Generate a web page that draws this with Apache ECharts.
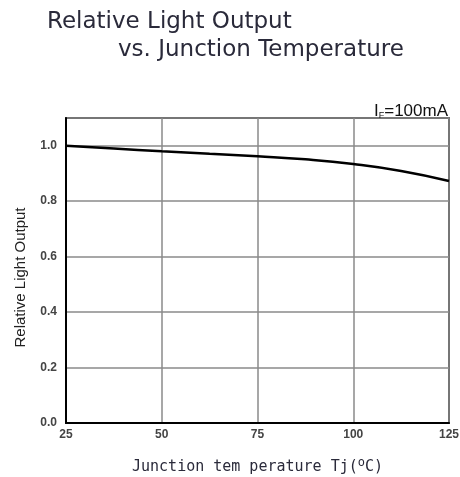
<!DOCTYPE html>
<html><head><meta charset="utf-8">
<script src="https://cdn.jsdelivr.net/npm/echarts@6/dist/echarts.min.js"></script>
<style>html,body{margin:0;padding:0;background:#fff}#c{width:460px;height:477px}</style>
</head><body><div id="c"></div>
<script>
var temps = [25, 37.5, 50, 62.5, 75, 87.5, 100, 112.5, 125];
var relOutput = [1.0, 0.99, 0.98, 0.971, 0.962, 0.951, 0.934, 0.909, 0.873];
var xTicks = [25, 50, 75, 100, 125];
var yTicks = [0.0, 0.2, 0.4, 0.6, 0.8, 1.0];

var chart = echarts.init(document.getElementById('c'));
chart.setOption({
  animation: false,
  backgroundColor: '#fff',
  title: [
    {text: 'Relative Light Output', left: 42, top: 4,
     textStyle: {fontFamily: 'DejaVu Sans', fontSize: 23, fontWeight: 'normal', color: '#2a2a3a', lineHeight: 27}},
    {text: 'vs. Junction Temperature', left: 113, top: 32,
     textStyle: {fontFamily: 'DejaVu Sans', fontSize: 23, fontWeight: 'normal', color: '#2a2a3a', lineHeight: 27}},
    {text: 'I{s|F}=100mA', right: 7, top: 97,
     textStyle: {fontFamily: 'Liberation Sans', fontSize: 17, fontWeight: 'normal', color: '#111',
       rich: {s: {fontFamily: 'Liberation Sans', fontSize: 9, color: '#111', verticalAlign: 'bottom', padding: [9, 0, 0, 0]}}}}
  ],
  grid: {left: 66, right: 11, top: 118, bottom: 54, show: true, borderColor: '#000', borderWidth: 1.5,
         backgroundColor: 'transparent', outerBoundsMode: 'none', containLabel: false},
  xAxis: {
    type: 'value', min: 25, max: 125, interval: 25,
    name: 'Junction tem perature Tj({sup|o}C)', nameLocation: 'middle', nameGap: 34,
    nameTextStyle: {fontFamily: 'DejaVu Sans Mono', fontSize: 15, color: '#2a2a3a',
      rich: {sup: {fontFamily: 'DejaVu Sans Mono', fontSize: 12, color: '#2a2a3a', verticalAlign: 'top', padding: [0, 0, 9, 0]}}},
    axisLine: {show: true, lineStyle: {color: '#000', width: 2}},
    axisTick: {show: false},
    axisLabel: {fontFamily: 'Liberation Sans', fontSize: 12, fontWeight: 'bold', color: '#444', margin: 6,
      formatter: function (v) { return xTicks.indexOf(v) >= 0 ? String(v) : ''; }},
    splitLine: {show: true, lineStyle: {color: '#8a8a8a', width: 1.5}}
  },
  yAxis: {
    type: 'value', min: 0, max: 1.1, interval: 0.2,
    name: 'Relative Light Output', nameLocation: 'middle', nameGap: 38,
    nameTextStyle: {fontFamily: 'Liberation Sans', fontSize: 15, color: '#222', padding: [0, 14, 0, 0]},
    axisLine: {show: true, lineStyle: {color: '#000', width: 2}},
    axisTick: {show: false},
    axisLabel: {fontFamily: 'Liberation Sans', fontSize: 12, fontWeight: 'bold', color: '#444', margin: 9, showMaxLabel: false,
      formatter: function (v) { return v.toFixed(1); }},
    splitLine: {show: true, lineStyle: {color: '#8a8a8a', width: 1.5}}
  },
  series: [{
    type: 'line', smooth: true, symbol: 'none',
    data: temps.map(function (t, i) { return [t, relOutput[i]]; }),
    lineStyle: {color: '#000', width: 2.5}
  }]
});
</script></body></html>
